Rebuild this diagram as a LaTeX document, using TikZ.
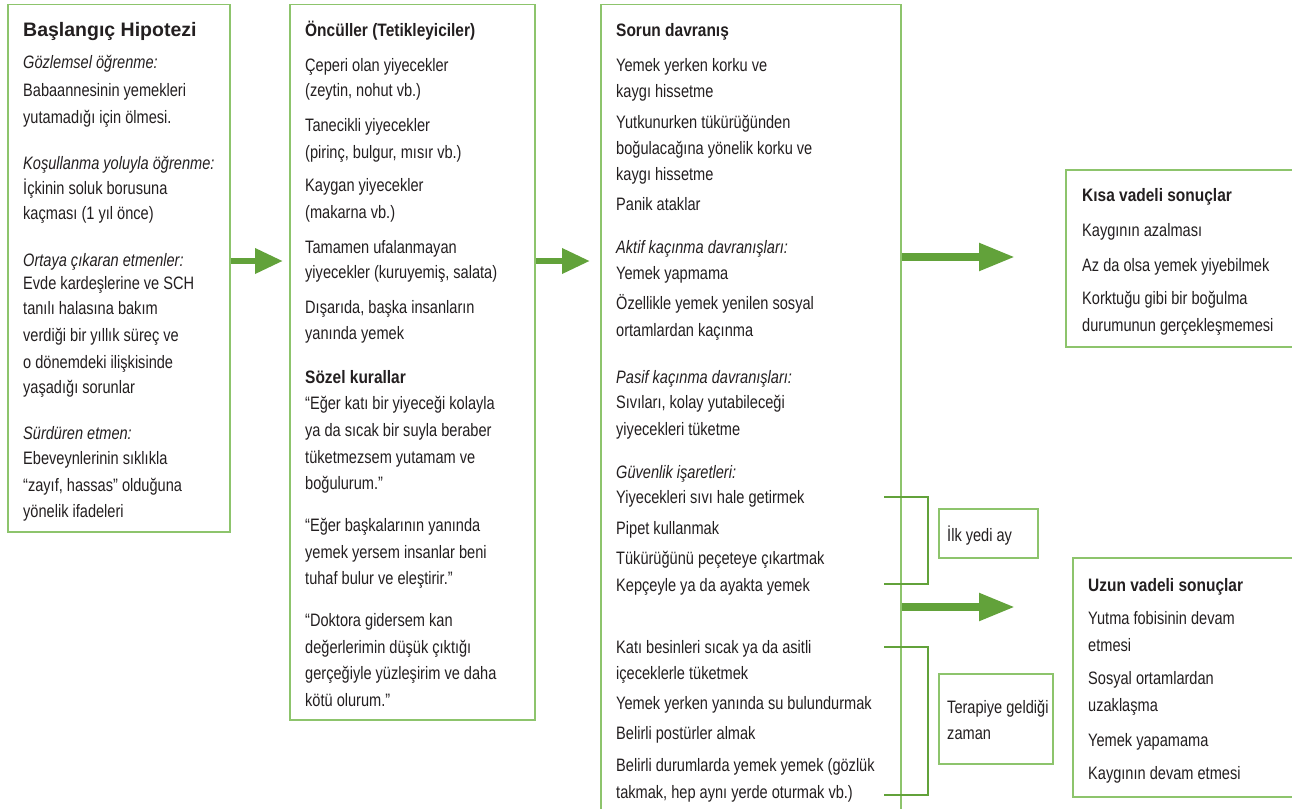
\documentclass[tikz,border=0pt]{standalone}
\usepackage{fontspec}
\setmainfont{Liberation Sans}[FakeStretch=0.81]
\newfontfamily\hdfont{Liberation Sans}[FakeStretch=0.86]
\newfontfamily\ttlfont{Liberation Sans}
\usetikzlibrary{arrows.meta}
\definecolor{boxgreen}{HTML}{8DC46C}
\definecolor{arrgreen}{HTML}{62A23A}
\definecolor{txtc}{HTML}{231F20}
\begin{document}
\begin{tikzpicture}[x=1pt,y=-1pt,
  box/.style={draw=boxgreen, line width=1.5pt, rectangle, inner sep=0pt, anchor=north west},
  t/.style={anchor=base west, inner sep=0pt, text=txtc, font=\fontsize{18}{22}\selectfont},
  ti/.style={t, font=\fontsize{18}{22}\selectfont\itshape},
  tb/.style={t, font=\fontsize{18}{22}\selectfont\hdfont\bfseries},
  tt/.style={t, font=\fontsize{19.5}{24}\selectfont\ttlfont\bfseries},
  smallarrow/.style={draw=arrgreen, line width=6.5pt, -{Triangle[length=28pt,width=24pt]}},
  bigarrow/.style={draw=arrgreen, line width=8pt, -{Triangle[length=36pt,width=26pt]}},
  bracket/.style={draw=arrgreen, line width=2.5pt}
]
\useasboundingbox (0,0) rectangle (1292,808);
\fill[white] (0,0) rectangle (1292,808);

% boxes
\node[box, minimum width=222pt, minimum height=527pt] (box1) at (7,4) {};
\node[box, minimum width=245pt, minimum height=715pt] (box2) at (289,4) {};
\node[box, minimum width=300pt, minimum height=830pt] (box3) at (600,4) {};
\node[box, minimum width=240pt, minimum height=177pt] (kisa) at (1065,169) {};
\node[box, minimum width=240pt, minimum height=239pt] (uzun) at (1072,557) {};
\node[box, minimum width=99pt, minimum height=49pt] (ilk) at (938,508) {};
\node[box, minimum width=114pt, minimum height=90pt] (ter) at (938,673) {};

% y levels for connectors
\coordinate (y1) at (0,261);
\coordinate (y3) at (0,257);
\coordinate (y4) at (0,607);
\coordinate (e3) at (1015,257);
\coordinate (e4) at (1015,607);

\draw[smallarrow] (box1.east |- y1) -- ([xshift=-6pt]box2.west |- y1);
\draw[smallarrow] (box2.east |- y1) -- ([xshift=-10pt]box3.west |- y1);
\draw[bigarrow] (box3.east |- y3) -- (e3);
\draw[bigarrow] (box3.east |- y4) -- (e4);

% brackets
\draw[bracket] (884,497) -- (928,497) -- (928,584) -- (884,584);
\draw[bracket] (884,647) -- (928,647) -- (928,795) -- (884,795);

% box 1 text
\node[tt] (a0) at (23,37) {Başlangıç Hipotezi};
\node[ti] (a1) at (23,69) {Gözlemsel öğrenme:};
\node[t] (a2) at (23,96) {Babaannesinin yemekleri};
\node[t] (a3) at (23,123) {yutamadığı için ölmesi.};
\node[ti] (a4) at (23,169) {Koşullanma yoluyla öğrenme:};
\node[t] (a5) at (23,194) {İçkinin soluk borusuna};
\node[t] (a6) at (23,219) {kaçması (1 yıl önce)};
\node[ti] (a7) at (23,266) {Ortaya çıkaran etmenler:};
\node[t] (a8) at (23,289) {Evde kardeşlerine ve SCH};
\node[t] (a9) at (23,314) {tanılı halasına bakım};
\node[t] (a10) at (23,341) {verdiği bir yıllık süreç ve};
\node[t] (a11) at (23,368) {o dönemdeki ilişkisinde};
\node[t] (a12) at (23,393) {yaşadığı sorunlar};
\node[ti] (a13) at (23,439) {Sürdüren etmen:};
\node[t] (a14) at (23,464) {Ebeveynlerinin sıklıkla};
\node[t] (a15) at (23,491) {“zayıf, hassas” olduğuna};
\node[t] (a16) at (23,517) {yönelik ifadeleri};

% box 2 text
\node[tb] (b0) at (305,37) {Öncüller (Tetikleyiciler)};
\node[t] (b1) at (305,71) {Çeperi olan yiyecekler};
\node[t] (b2) at (305,96) {(zeytin, nohut vb.)};
\node[t] (b3) at (305,131) {Tanecikli yiyecekler};
\node[t] (b4) at (305,158) {(pirinç, bulgur, mısır vb.)};
\node[t] (b5) at (305,191) {Kaygan yiyecekler};
\node[t] (b6) at (305,218) {(makarna vb.)};
\node[t] (b7) at (305,253) {Tamamen ufalanmayan};
\node[t] (b8) at (305,278) {yiyecekler (kuruyemiş, salata)};
\node[t] (b9) at (305,313) {Dışarıda, başka insanların};
\node[t] (b10) at (305,339) {yanında yemek};
\node[tb] (b11) at (305,383) {Sözel kurallar};
\node[t] (b12) at (305,409) {“Eğer katı bir yiyeceği kolayla};
\node[t] (b13) at (305,436) {ya da sıcak bir suyla beraber};
\node[t] (b14) at (305,463) {tüketmezsem yutamam ve};
\node[t] (b15) at (305,489) {boğulurum.”};
\node[t] (b16) at (305,531) {“Eğer başkalarının yanında};
\node[t] (b17) at (305,558) {yemek yersem insanlar beni};
\node[t] (b18) at (305,584) {tuhaf bulur ve eleştirir.”};
\node[t] (b19) at (305,626) {“Doktora gidersem kan};
\node[t] (b20) at (305,653) {değerlerimin düşük çıktığı};
\node[t] (b21) at (305,679) {gerçeğiyle yüzleşirim ve daha};
\node[t] (b22) at (305,706) {kötü olurum.”};

% box 3 text
\node[tb] (c0) at (616,37) {Sorun davranış};
\node[t] (c1) at (616,71) {Yemek yerken korku ve};
\node[t] (c2) at (616,97) {kaygı hissetme};
\node[t] (c3) at (616,128) {Yutkunurken tükürüğünden};
\node[t] (c4) at (616,154) {boğulacağına yönelik korku ve};
\node[t] (c5) at (616,180) {kaygı hissetme};
\node[t] (c6) at (616,210) {Panik ataklar};
\node[ti] (c7) at (616,253) {Aktif kaçınma davranışları:};
\node[t] (c8) at (616,279) {Yemek yapmama};
\node[t] (c9) at (616,309) {Özellikle yemek yenilen sosyal};
\node[t] (c10) at (616,336) {ortamlardan kaçınma};
\node[ti] (c11) at (616,383) {Pasif kaçınma davranışları:};
\node[t] (c12) at (616,408) {Sıvıları, kolay yutabileceği};
\node[t] (c13) at (616,435) {yiyecekleri tüketme};
\node[ti] (c14) at (616,478) {Güvenlik işaretleri:};
\node[t] (c15) at (616,503) {Yiyecekleri sıvı hale getirmek};
\node[t] (c16) at (616,534) {Pipet kullanmak};
\node[t] (c17) at (616,564) {Tükürüğünü peçeteye çıkartmak};
\node[t] (c18) at (616,591) {Kepçeyle ya da ayakta yemek};
\node[t] (c19) at (616,653) {Katı besinleri sıcak ya da asitli};
\node[t] (c20) at (616,679) {içeceklerle tüketmek};
\node[t] (c21) at (616,709) {Yemek yerken yanında su bulundurmak};
\node[t] (c22) at (616,739) {Belirli postürler almak};
\node[t] (c23) at (616,771) {Belirli durumlarda yemek yemek (gözlük};
\node[t] (c24) at (616,798) {takmak, hep aynı yerde oturmak vb.)};

% side labels
\node[t] (i1) at (947,541) {İlk yedi ay};
\node[t] (p1) at (947,713) {Terapiye geldiği};
\node[t] (p2) at (947,739) {zaman};

% short-term
\node[tb] (k0) at (1082,201) {Kısa vadeli sonuçlar};
\node[t] (k1) at (1082,236) {Kaygının azalması};
\node[t] (k2) at (1082,271) {Az da olsa yemek yiyebilmek};
\node[t] (k3) at (1082,304) {Korktuğu gibi bir boğulma};
\node[t] (k4) at (1082,331) {durumunun gerçekleşmemesi};

% long-term
\node[tb] (u0) at (1088,591) {Uzun vadeli sonuçlar};
\node[t] (u1) at (1088,624) {Yutma fobisinin devam};
\node[t] (u2) at (1088,651) {etmesi};
\node[t] (u3) at (1088,684) {Sosyal ortamlardan};
\node[t] (u4) at (1088,711) {uzaklaşma};
\node[t] (u5) at (1088,746) {Yemek yapamama};
\node[t] (u6) at (1088,779) {Kaygının devam etmesi};
\end{tikzpicture}
\end{document}
